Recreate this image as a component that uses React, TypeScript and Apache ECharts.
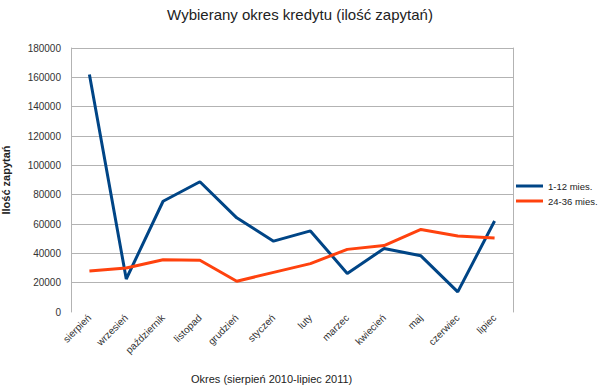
import React, { useEffect, useRef } from "react";
import * as echarts from "echarts";

const categories = ["sierpień", "wrzesień", "październik", "listopad", "grudzień", "styczeń", "luty", "marzec", "kwiecień", "maj", "czerwiec", "lipiec"];
const series1Name = "1-12 mies.";
const series1 = [162000, 22500, 75500, 88800, 64200, 48300, 55300, 26300, 43300, 38300, 13700, 62000];
const series2Name = "24-36 mies.";
const series2 = [28000, 30000, 35600, 35300, 21000, 27000, 33000, 42700, 45300, 56300, 51800, 50400];
const yTicks = [0, 20000, 40000, 60000, 80000, 100000, 120000, 140000, 160000, 180000];
const titleText = "Wybierany okres kredytu (ilość zapytań)";
const xName = "Okres (sierpień 2010-lipiec 2011)";
const yName = "Ilość zapytań";

const FONT = "Liberation Sans";

export default function App() {
  const ref = useRef<HTMLDivElement>(null);
  useEffect(() => {
    if (!ref.current) return;
    const chart = echarts.init(ref.current, null, { renderer: "svg" });
    const gridColors = yTicks.map((_, i) => (i === 0 ? "rgba(0,0,0,0)" : "#b3b3b3"));
    chart.setOption({
      animation: false,
      backgroundColor: "#ffffff",
      title: {
        text: titleText,
        left: "center",
        top: 2,
        textStyle: { fontFamily: FONT, fontSize: 15, fontWeight: "normal", color: "#222" },
      },
      legend: {
        orient: "vertical",
        left: 511,
        top: 176,
        icon: "rect",
        itemWidth: 27,
        itemHeight: 3,
        itemGap: 5,
        textStyle: { fontFamily: FONT, fontSize: 9.5, lineHeight: 10, color: "#222" },
        data: [series1Name, series2Name],
      },
      grid: { left: 71, right: 87, top: 48, bottom: 74, containLabel: false, outerBoundsMode: "none" },
      xAxis: {
        type: "category",
        data: categories,
        boundaryGap: true,
        axisLine: { show: false },
        axisTick: { show: false },
        axisLabel: { rotate: 45, margin: 4, fontFamily: FONT, fontSize: 10, color: "#333", interval: 0 },
      },
      yAxis: [
        {
          type: "value",
          min: 0,
          max: 180000,
          interval: 20000,
          name: yName,
          nameLocation: "middle",
          nameGap: 60,
          nameTextStyle: { fontFamily: FONT, fontSize: 11, fontWeight: "bold", color: "#222" },
          axisLine: { show: true, lineStyle: { color: "#b3b3b3", width: 1 } },
          axisTick: { show: false },
          axisLabel: { fontFamily: FONT, fontSize: 10, color: "#333", margin: 10, formatter: (v: number) => String(v) },
          splitLine: { show: true, lineStyle: { color: gridColors, width: 1 } },
        },
        {
          type: "value",
          min: 0,
          max: 180000,
          interval: 20000,
          position: "right",
          axisLine: { show: true, lineStyle: { color: "#b3b3b3", width: 1 } },
          axisTick: { show: false },
          axisLabel: { show: false },
          splitLine: { show: false },
        },
      ],
      graphic: [
        {
          type: "text",
          left: 284 - 93,
          top: 373,
          style: { text: xName, fontFamily: FONT, fontSize: 11, fill: "#222" },
        },
      ],
      series: [
        {
          name: series1Name,
          type: "line",
          data: series1,
          symbol: "none",
          lineStyle: { color: "#004586", width: 3 },
          itemStyle: { color: "#004586" },
        },
        {
          name: series2Name,
          type: "line",
          data: series2,
          symbol: "none",
          lineStyle: { color: "#ff420e", width: 3 },
          itemStyle: { color: "#ff420e" },
        },
      ],
    });
    return () => chart.dispose();
  }, []);
  return <div ref={ref} style={{ width: 600, height: 386, position: "absolute", left: 0, top: 0 }} />;
}
